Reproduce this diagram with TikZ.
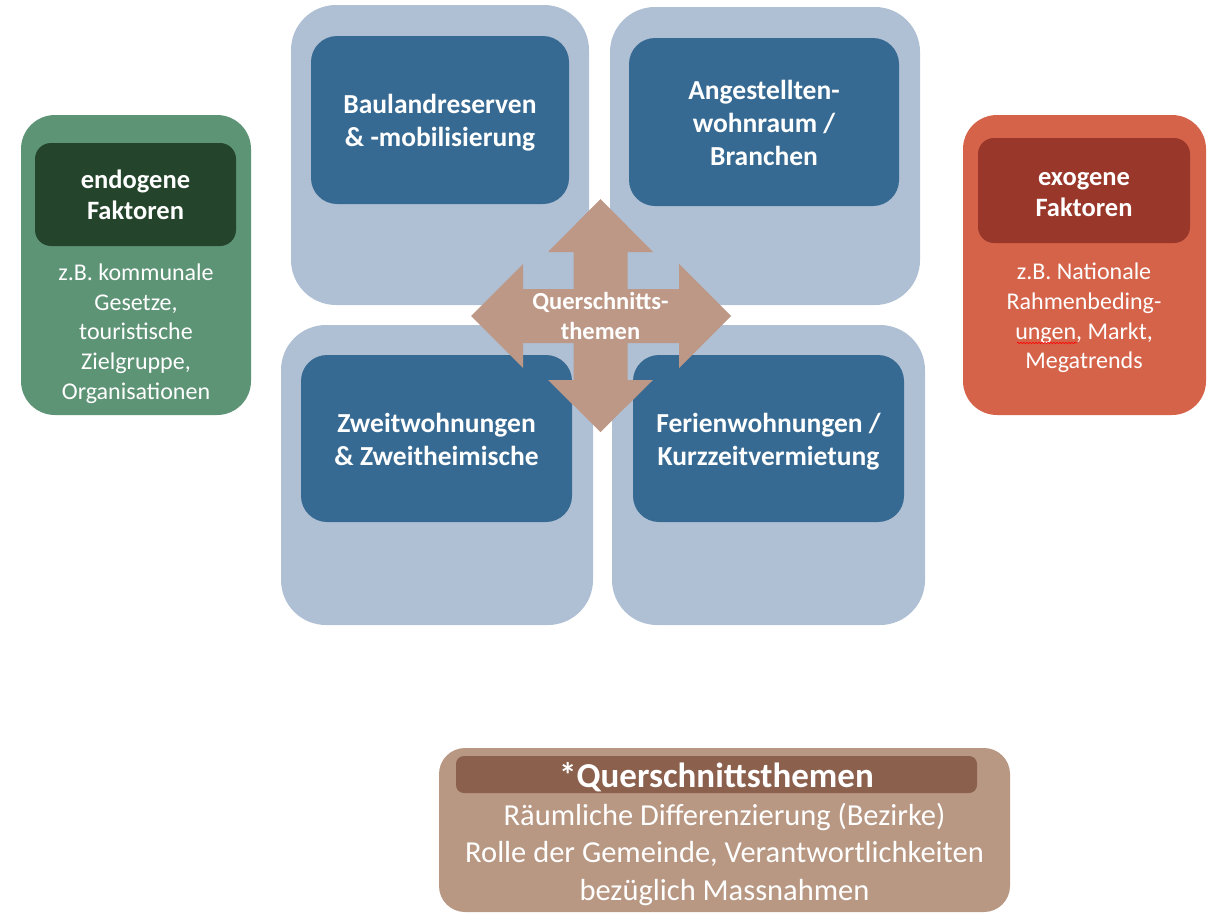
\documentclass[tikz,border=0pt]{standalone}
\usepackage{fontspec}
\setmainfont{Carlito}
\usetikzlibrary{decorations.pathmorphing}
\definecolor{bigbox}{HTML}{B0C0D4}
\definecolor{innerblue}{HTML}{376A92}
\definecolor{arrowc}{HTML}{BD9886}
\definecolor{greenout}{HTML}{5E9476}
\definecolor{greenin}{HTML}{24452B}
\definecolor{orangeout}{HTML}{D5634A}
\definecolor{orangein}{HTML}{99372A}
\definecolor{brownout}{HTML}{B89883}
\definecolor{brownin}{HTML}{8B604D}
\tikzset{
  bigbox/.style={fill=bigbox, rounded corners=45pt, inner sep=0pt},
  topic/.style={fill=innerblue, rounded corners=26pt, inner sep=0pt},
  topictext/.style={text=white, align=center, inner sep=0pt, font=\fontsize{27.5}{33}\selectfont\bfseries},
  sideout/.style={rounded corners=34pt, inner sep=0pt},
  sidein/.style={rounded corners=16pt, inner sep=0pt},
  sidetitle/.style={text=white, align=center, inner sep=0pt, font=\fontsize{26.5}{31}\selectfont\bfseries},
  sidetext/.style={text=white, align=center, inner sep=0pt, font=\fontsize{24}{29.7}\selectfont},
}
\begin{document}
\begin{tikzpicture}[x=1pt,y=-1pt]
\useasboundingbox (0,0) rectangle (1218,913);
% big background boxes
\node[bigbox, minimum width=298pt, minimum height=300pt] (bgTL) at (440,155) {};
\node[bigbox, minimum width=310pt, minimum height=298pt] (bgTR) at (765,156) {};
\node[bigbox, minimum width=312pt, minimum height=300pt] (bgBL) at (437,475) {};
\node[bigbox, minimum width=313pt, minimum height=300pt] (bgBR) at (768.5,475) {};
% topic boxes
\node[topic, minimum width=258pt, minimum height=168pt] (bauland) at (440,120) {};
\node[topic, minimum width=270pt, minimum height=168pt] (angest) at (764,122) {};
\node[topic, minimum width=271pt, minimum height=167pt] (zweit) at (436.5,438.5) {};
\node[topic, minimum width=271pt, minimum height=167pt] (ferien) at (768.5,438.5) {};
\node[topictext] (baulandT) at (440,123) {Baulandreserven\\\& -mobilisierung};
\node[topictext] (angestT) at (764,122.5) {Angestellten-\\wohnraum /\\Branchen};
\node[topictext] (zweitT) at (436.5,439.5) {Zweitwohnungen\\\& Zweitheimische};
\node[topictext] (ferienT) at (768.5,441.5) {Ferienwohnungen /\\Kurzzeitvermietung};
% cross arrow
\fill[arrowc] (600.5,199) -- (653,252) -- (627.5,252) -- (627.5,289) -- (679,289) -- (679,264) -- (731,316) -- (679,368) -- (679,343) -- (627.5,343) -- (627.5,380) -- (653,380) -- (600.5,432) -- (548,380) -- (573.5,380) -- (573.5,343) -- (523,343) -- (523,368) -- (471,316) -- (523,264) -- (523,289) -- (573.5,289) -- (573.5,252) -- (548,252) -- cycle;
\node[text=white, align=center, inner sep=0pt, font=\fontsize{24.5}{30.5}\selectfont\bfseries] (quer) at (600.5,316) {Querschnitts-\\themen};
% endogene
\node[sideout, fill=greenout, minimum width=230pt, minimum height=300pt] (endoOut) at (136,265) {};
\node[sidein, fill=greenin, minimum width=201pt, minimum height=103pt] (endoIn) at (135.5,194.5) {};
\node[sidetitle] (endoTitle) at (135.5,195) {endogene\\Faktoren};
\node[sidetext] (endoText) at (136,333.5) {z.B. kommunale\\Gesetze,\\touristische\\Zielgruppe,\\Organisationen};
% exogene
\node[sideout, fill=orangeout, minimum width=243pt, minimum height=300pt] (exoOut) at (1084.5,265) {};
\node[sidein, fill=orangein, minimum width=212pt, minimum height=105pt] (exoIn) at (1084,190.5) {};
\node[sidetitle] (exoTitle) at (1084,194.5) {exogene\\Faktoren};
\node[sidetext] (exoText) at (1084,318) {z.B. Nationale\\Rahmenbeding-\\ungen, Markt,\\Megatrends};
\draw[red, line width=0.6pt, decorate, decoration={snake, amplitude=0.8pt, segment length=3pt}] (1017,343) -- (1077,343);
% bottom box
\node[rounded corners=26pt, inner sep=0pt, fill=brownout, minimum width=571pt, minimum height=164pt] (qOut) at (724.5,830) {};
\node[rounded corners=8pt, inner sep=0pt, fill=brownin, minimum width=521pt, minimum height=37pt] (qIn) at (716.5,774.5) {};
\node[text=white, inner sep=0pt, font=\fontsize{35}{36}\selectfont\bfseries] (qTitle) at (716.5,777) {*Querschnittsthemen};
\node[text=white, align=center, inner sep=0pt, font=\fontsize{30.5}{37.5}\selectfont] (qText) at (724.5,854) {Räumliche Differenzierung (Bezirke)\\Rolle der Gemeinde, Verantwortlichkeiten\\bezüglich Massnahmen};
\end{tikzpicture}
\end{document}
